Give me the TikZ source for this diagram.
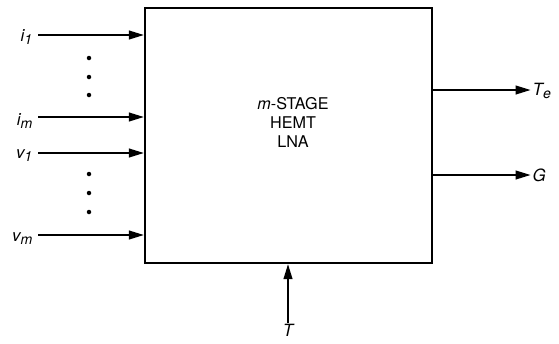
\documentclass[tikz,border=0pt]{standalone}
\usepackage{fontspec}
\setmainfont{TeX Gyre Heros}
\usetikzlibrary{arrows.meta, positioning}

\newcommand{\lowidx}[1]{\raisebox{-0.35ex}{\fontsize{10}{12}\selectfont\itshape #1}}

\tikzset{
  sigarrow/.style={line width=1.9pt, -{Triangle[length=11pt, width=6pt]}},
  siglabel/.style={font=\fontsize{12}{14}\selectfont\itshape, inner sep=1pt},
  vdot/.style={circle, fill=black, inner sep=0pt, minimum size=3.2pt}
}

\begin{document}
\begin{tikzpicture}[x=0.025cm, y=-0.025cm]
  \useasboundingbox (0,0) rectangle (559,343);

  % --- Amplifier block ---
  \node[draw, line width=1pt, minimum width=287*0.025cm, minimum height=255*0.025cm,
        inner sep=0pt] (lna) at (288.5,135.5) {};
  \node[font=\fontsize{11.5}{13.5}\selectfont, align=center] (lnatext) at (293,122)
    {\textit{m}-STAGE\\HEMT\\LNA};

  % --- Inputs ---
  \node[siglabel, anchor=east] (lbli1) at (34,37) {i\lowidx{1}};
  \node[siglabel, anchor=east] (lblim) at (34,121) {i\lowidx{m}};
  \node[siglabel, anchor=east] (lblv1) at (34,156) {v\lowidx{1}};
  \node[siglabel, anchor=east] (lblvm) at (34,239) {v\lowidx{m}};

  \coordinate (ini1) at (38,35);
  \coordinate (inim) at (38,117);
  \coordinate (inv1) at (38,153);
  \coordinate (invm) at (38,235);

  \draw[sigarrow] (ini1) -- (lna.west |- ini1);
  \draw[sigarrow] (inim) -- (lna.west |- inim);
  \draw[sigarrow] (inv1) -- (lna.west |- inv1);
  \draw[sigarrow] (invm) -- (lna.west |- invm);

  % dots between inputs
  \foreach \y in {58,77,95,174,193,212}
    \node[vdot] at (89,\y) {};

  % --- Outputs ---
  \node[siglabel, anchor=west] (lblte) at (531,91) {T\lowidx{e}};
  \node[siglabel, anchor=west] (lblg) at (531,175) {G};

  \draw[sigarrow] (lna.east |- 0,90) -- (lblte.west |- 0,90);
  \draw[sigarrow] (lna.east |- lblg) -- (lblg.west);

  % --- Temperature ---
  \node[siglabel, anchor=north] (lblt) at (288,323) {T};
  \draw[sigarrow] (lblt.north) -- (lna.south -| lblt);
\end{tikzpicture}
\end{document}
